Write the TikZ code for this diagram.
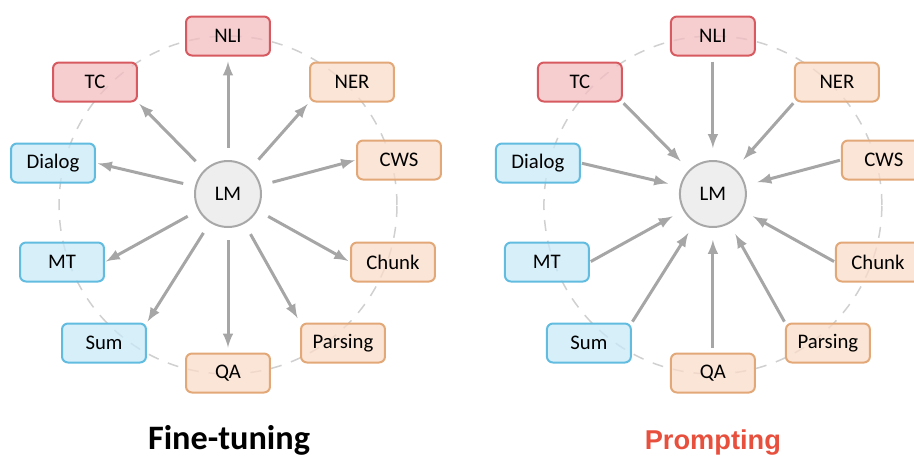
\documentclass[tikz,border=0pt]{standalone}
\usepackage{fontspec}
\setmainfont{Carlito}
\newfontfamily\headfont{Liberation Sans}
\usetikzlibrary{arrows}

\definecolor{redfill}{HTML}{F3BDC0}
\definecolor{redline}{HTML}{D65A60}
\definecolor{orangefill}{HTML}{FADCC8}
\definecolor{orangeline}{HTML}{E2A878}
\definecolor{bluefill}{HTML}{C8E9F7}
\definecolor{blueline}{HTML}{62BCE0}
\definecolor{lmfill}{HTML}{EEEEEE}
\definecolor{lmline}{HTML}{A8A8A8}
\definecolor{arrowgray}{HTML}{A6A6A6}
\definecolor{ringgray}{HTML}{D0D0D0}
\definecolor{promptred}{HTML}{E8503E}

\begin{document}
\begin{tikzpicture}[x=0.02cm,y=-0.02cm,
  task/.style={rounded corners=0.12cm, line width=0.04cm, minimum width=1.68cm,
    minimum height=0.78cm, inner sep=0pt, fill opacity=0.75, text opacity=1,
    font=\fontsize{11.8}{13}\selectfont},
  redtask/.style={task, draw=redline, fill=redfill},
  orangetask/.style={task, draw=orangeline, fill=orangefill},
  bluetask/.style={task, draw=blueline, fill=bluefill},
  lmcircle/.style={circle, draw=lmline, fill=lmfill, line width=0.04cm,
    minimum size=1.32cm, inner sep=0pt, font=\fontsize{11.8}{13}\selectfont},
  ring/.style={draw=ringgray, line width=0.03cm, dash pattern=on 0.22cm off 0.2cm},
  link/.style={draw=arrowgray, line width=0.06cm, ->, >=latex}
]
\useasboundingbox (0,0) rectangle (914,458);

% fine-tuning
\draw[ring] (228,205) circle [radius=3.38cm];
\node[redtask] (ft-nli) at (228,36) {NLI};
\node[redtask] (ft-tc) at (95,82) {TC};
\node[orangetask] (ft-ner) at (352,82) {NER};
\node[bluetask] (ft-dialog) at (53,163) {Dialog};
\node[orangetask] (ft-cws) at (399,160) {CWS};
\node[bluetask] (ft-mt) at (62,262) {MT};
\node[orangetask] (ft-chunk) at (393,262) {Chunk};
\node[bluetask] (ft-sum) at (104,343) {Sum};
\node[orangetask] (ft-parsing) at (343,343) {Parsing};
\node[orangetask] (ft-qa) at (228,373) {QA};
\node[lmcircle] (ft-lm) at (228,194) {LM};

\draw[link, shorten <=0.24cm, shorten >=0.1cm] (ft-lm) -- (ft-nli.south);
\draw[link, shorten <=0.24cm, shorten >=0.04cm] (ft-lm) -- (ft-tc.south east);
\draw[link, shorten <=0.24cm, shorten >=0.04cm] (ft-lm) -- (ft-ner.south west);
\draw[link, shorten <=0.24cm, shorten >=0.04cm] (ft-lm) -- (ft-dialog.east);
\draw[link, shorten <=0.24cm, shorten >=0.02cm] (ft-lm) -- (ft-cws.west);
\draw[link, shorten <=0.24cm, shorten >=0.02cm] (ft-lm) -- (ft-mt.east);
\draw[link, shorten <=0.24cm, shorten >=0.04cm] (ft-lm) -- (ft-chunk.west);
\draw[link, shorten <=0.24cm, shorten >=0.02cm] (ft-lm) -- (ft-sum.north east);
\draw[link, shorten <=0.24cm, shorten >=0.1cm] (ft-lm) -- (ft-parsing.north west);
\draw[link, shorten <=0.24cm, shorten >=0.1cm] (ft-lm) -- (ft-qa.north);

\node[anchor=base, font=\fontsize{19.5}{22}\selectfont\bfseries] (ft-title) at (229,449) {Fine-tuning};

% prompting
\begin{scope}[xshift=9.7cm]
\draw[ring] (228,205) circle [radius=3.38cm];
\node[redtask] (pr-nli) at (228,36) {NLI};
\node[redtask] (pr-tc) at (95,82) {TC};
\node[orangetask] (pr-ner) at (352,82) {NER};
\node[bluetask] (pr-dialog) at (53,163) {Dialog};
\node[orangetask] (pr-cws) at (399,160) {CWS};
\node[bluetask] (pr-mt) at (62,262) {MT};
\node[orangetask] (pr-chunk) at (393,262) {Chunk};
\node[bluetask] (pr-sum) at (104,343) {Sum};
\node[orangetask] (pr-parsing) at (343,343) {Parsing};
\node[orangetask] (pr-qa) at (228,373) {QA};
\node[lmcircle] (pr-lm) at (228,194) {LM};

\draw[link, shorten <=0.1cm, shorten >=0.24cm] (pr-nli.south) -- (pr-lm);
\draw[link, shorten <=0.02cm, shorten >=0.24cm] (pr-tc.south east) -- (pr-lm);
\draw[link, shorten <=0.02cm, shorten >=0.24cm] (pr-ner.south west) -- (pr-lm);
\draw[link, shorten <=0.02cm, shorten >=0.24cm] (pr-dialog.east) -- (pr-lm);
\draw[link, shorten <=0.02cm, shorten >=0.24cm] (pr-cws.west) -- (pr-lm);
\draw[link, shorten <=0.02cm, shorten >=0.24cm] (pr-mt.east) -- (pr-lm);
\draw[link, shorten <=0.02cm, shorten >=0.24cm] (pr-chunk.west) -- (pr-lm);
\draw[link, shorten <=0.02cm, shorten >=0.24cm] (pr-sum.north east) -- (pr-lm);
\draw[link, shorten <=0.02cm, shorten >=0.24cm] (pr-parsing.north west) -- (pr-lm);
\draw[link, shorten <=0.1cm, shorten >=0.24cm] (pr-qa.north) -- (pr-lm);

\node[anchor=base, text=promptred, font=\headfont\fontsize{15.5}{18}\selectfont\bfseries] (pr-title) at (228,449) {Prompting};
\end{scope}
\end{tikzpicture}
\end{document}
